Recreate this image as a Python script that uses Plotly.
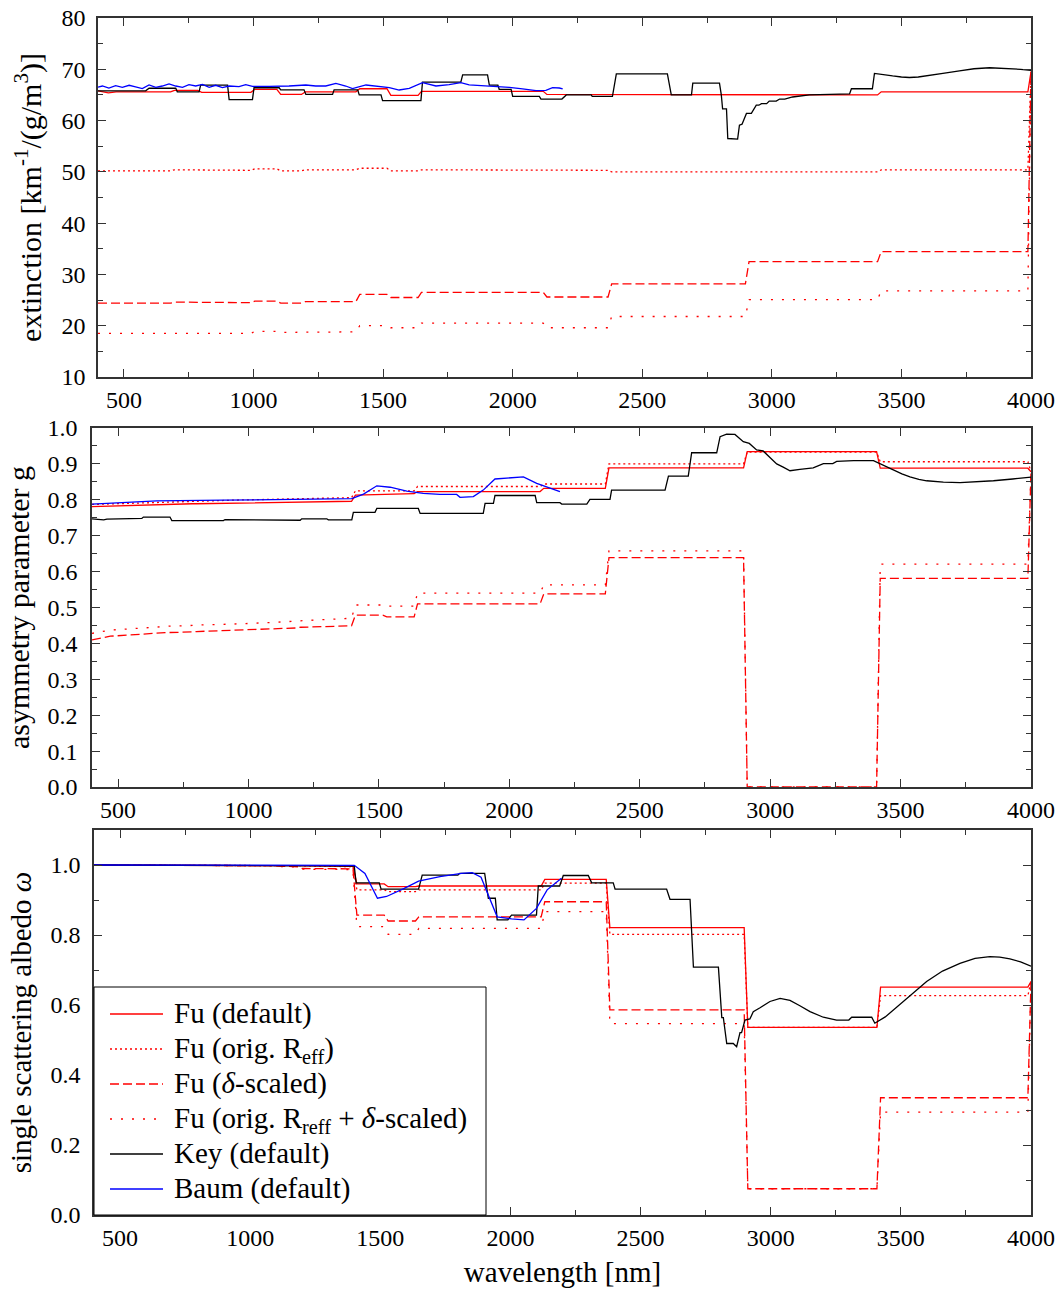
import plotly.graph_objects as go

# ---------------- data ----------------
# Fu parameterisation: common wavelength grid (nm)
fu_wl = [400, 440, 470, 680, 695, 785, 800, 990, 1005, 1090, 1105, 1185, 1200, 1395, 1410,
         1515, 1530, 1635, 1648, 2118, 2132, 2368, 2382, 2898, 2912, 3408, 3422, 3988, 4000]

# extinction [km-1/(g/m3)]
ext_fu = [65.8, 65.4, 65.6, 65.6, 65.9, 65.9, 65.5, 65.5, 66.1, 66.1, 65.1, 65.1, 65.6, 65.6, 66.2,
          66.2, 64.9, 64.9, 65.7, 65.7, 65.1, 65.1, 65.0, 65.0, 65.0, 65.0, 65.6, 65.6, 69.5]
ext_fu_reff = [50.2, 50.2, 50.2, 50.2, 50.4, 50.4, 50.3, 50.3, 50.6, 50.6, 50.2, 50.2, 50.4, 50.4, 50.7,
               50.7, 50.2, 50.2, 50.4, 50.4, 50.3, 50.3, 50.0, 50.0, 50.0, 50.0, 50.4, 50.4, 69.5]
ext_fu_delta = [24.4, 24.4, 24.4, 24.4, 24.6, 24.6, 24.5, 24.5, 24.8, 24.8, 24.4, 24.4, 24.7, 24.7, 26.1,
                26.1, 25.5, 25.5, 26.5, 26.5, 25.6, 25.6, 28.15, 28.15, 32.5, 32.5, 34.45, 34.45, 69.5]
ext_fu_reff_delta = [18.5, 18.5, 18.5, 18.5, 18.6, 18.6, 18.5, 18.5, 18.9, 18.9, 18.7, 18.7, 18.8, 18.8, 20.0,
                     20.0, 19.6, 19.6, 20.5, 20.5, 19.6, 19.6, 21.8, 21.8, 25.1, 25.1, 26.8, 26.8, 69.5]

# asymmetry parameter g
g_fu = [0.781, 0.782, 0.783, 0.787, 0.787, 0.789, 0.789, 0.791, 0.791, 0.792, 0.792, 0.793, 0.793, 0.796, 0.813,
        0.815, 0.816, 0.817, 0.823, 0.823, 0.832, 0.832, 0.889, 0.889, 0.934, 0.934, 0.888, 0.888, 0.878]
g_fu_reff = [0.787, 0.788, 0.789, 0.794, 0.794, 0.796, 0.796, 0.800, 0.800, 0.802, 0.802, 0.803, 0.803, 0.806, 0.825,
             0.825, 0.825, 0.825, 0.837, 0.837, 0.844, 0.844, 0.900, 0.900, 0.933, 0.933, 0.906, 0.906, 0.878]
g_fu_delta = [0.410, 0.415, 0.420, 0.430, 0.430, 0.432, 0.433, 0.437, 0.438, 0.440, 0.440, 0.443, 0.445, 0.449, 0.479,
              0.479, 0.474, 0.474, 0.510, 0.510, 0.538, 0.538, 0.639, 0.639, 0.0, 0.0, 0.581, 0.581, 0.878]
g_fu_reff_delta = [0.428, 0.433, 0.437, 0.447, 0.448, 0.450, 0.451, 0.455, 0.456, 0.458, 0.459, 0.462, 0.463, 0.470, 0.507,
                   0.507, 0.504, 0.504, 0.540, 0.540, 0.563, 0.563, 0.658, 0.658, 0.0, 0.0, 0.621, 0.621, 0.878]

# single scattering albedo
ssa_fu = [1.0, 1.0, 1.0, 1.0, 1.0, 1.0, 1.0, 1.0, 1.0, 0.999, 0.999, 0.998, 0.998, 0.996, 0.946,
          0.946, 0.938, 0.938, 0.940, 0.940, 0.959, 0.959, 0.821, 0.821, 0.536, 0.536, 0.651, 0.651, 0.667]
ssa_fu_reff = [1.0, 1.0, 1.0, 1.0, 1.0, 1.0, 1.0, 1.0, 1.0, 0.999, 0.999, 0.998, 0.998, 0.995, 0.929,
               0.929, 0.924, 0.924, 0.929, 0.929, 0.948, 0.948, 0.802, 0.802, 0.536, 0.536, 0.627, 0.627, 0.667]
ssa_fu_delta = [1.0, 1.0, 1.0, 1.0, 1.0, 1.0, 1.0, 0.999, 0.999, 0.998, 0.997, 0.995, 0.990, 0.989, 0.857,
                0.857, 0.840, 0.840, 0.852, 0.852, 0.895, 0.895, 0.586, 0.586, 0.075, 0.075, 0.335, 0.335, 0.667]
ssa_fu_reff_delta = [1.0, 1.0, 1.0, 1.0, 1.0, 1.0, 1.0, 0.999, 0.999, 0.998, 0.996, 0.994, 0.988, 0.987, 0.824,
                     0.824, 0.802, 0.802, 0.819, 0.819, 0.867, 0.867, 0.547, 0.547, 0.075, 0.075, 0.294, 0.294, 0.667]

# Key parameterisation
key_ext_wl = [400, 584, 597, 700, 706, 790, 796, 900, 906, 996, 1002, 1099, 1105, 1195, 1202, 1305, 1311, 1402,
              1408, 1492, 1498, 1646, 1652, 1800, 1807, 1903, 1910, 1943, 1948, 1994, 2000, 2103, 2109, 2190,
              2207, 2303, 2307, 2385, 2400, 2597, 2612, 2690, 2695, 2798, 2805, 2810, 2825, 2830, 2868, 2875,
              2885, 2902, 2921, 2930, 2940, 2950, 2960, 2980, 2990, 3017, 3030, 3050, 3080, 3145, 3210, 3300,
              3307, 3388, 3396, 3430, 3466, 3500, 3531, 3565, 3596, 3660, 3724, 3780, 3840, 3917, 3960, 4000]
key_ext = [65.8, 65.8, 66.3, 66.3, 65.6, 65.6, 66.9, 66.9, 64.1, 64.1, 66.4, 66.4, 66.0, 66.0, 65.1, 65.1, 66.0, 66.0,
           65.0, 65.0, 63.9, 63.9, 67.5, 67.5, 68.9, 68.9, 66.9, 66.9, 66.1, 66.1, 64.7, 64.7, 64.2, 64.2,
           65.0, 65.0, 64.7, 64.7, 69.1, 69.1, 65.0, 65.0, 67.3, 67.3, 65.0, 62.3, 62.3, 56.5, 56.4, 59.1,
           59.3, 61.4, 61.4, 62.2, 63.0, 63.0, 63.3, 63.3, 63.8, 63.8, 64.2, 64.2, 64.6, 65.0, 65.1, 65.2,
           66.2, 66.2, 69.2, 68.9, 68.7, 68.5, 68.4, 68.5, 68.7, 69.2, 69.7, 70.1, 70.3, 70.2, 70.0, 69.8]

key_g_wl = [400, 430, 445, 457, 591, 597, 699, 706, 904, 910, 993, 998, 1198, 1204, 1300, 1306, 1396, 1402, 1485,
            1492, 1651, 1658, 1900, 1907, 1939, 1945, 2099, 2105, 2194, 2201, 2297, 2309, 2386, 2392, 2597, 2610,
            2686, 2699, 2795, 2808, 2833, 2865, 2897, 2920, 2948, 2973, 2999, 3025, 3050, 3076, 3114, 3165, 3204,
            3240, 3255, 3320, 3396, 3430, 3472, 3505, 3536, 3570, 3600, 3664, 3728, 3800, 3856, 3930, 4000]
key_g = [0.747, 0.746, 0.744, 0.746, 0.748, 0.752, 0.752, 0.742, 0.742, 0.745, 0.745, 0.743, 0.743, 0.747, 0.747,
         0.744, 0.744, 0.765, 0.765, 0.776, 0.776, 0.762, 0.762, 0.790, 0.790, 0.812, 0.812, 0.792, 0.792, 0.788,
         0.788, 0.801, 0.801, 0.827, 0.827, 0.866, 0.866, 0.931, 0.931, 0.976, 0.983, 0.982, 0.962, 0.957, 0.939,
         0.936, 0.917, 0.900, 0.891, 0.881, 0.885, 0.889, 0.901, 0.901, 0.907, 0.909, 0.909, 0.897, 0.883, 0.872,
         0.864, 0.857, 0.853, 0.849, 0.848, 0.850, 0.853, 0.858, 0.863]

key_ssa_wl = [400, 1000, 1400, 1407, 1496, 1503, 1647, 1661, 1798, 1805, 1901, 1915, 1942, 1949, 1990, 2004, 2100,
              2107, 2189, 2203, 2299, 2312, 2395, 2402, 2600, 2613, 2690, 2703, 2799, 2812, 2818, 2831, 2856, 2869,
              2882, 2888, 2901, 2920, 2933, 2959, 2997, 3036, 3074, 3112, 3151, 3202, 3253, 3300, 3311, 3388, 3400,
              3440, 3471, 3535, 3599, 3660, 3727, 3785, 3842, 3880, 3919, 3960, 4000]
key_ssa = [1.0, 0.999, 0.997, 0.949, 0.949, 0.931, 0.931, 0.971, 0.971, 0.976, 0.976, 0.905, 0.905, 0.843, 0.843,
           0.857, 0.857, 0.940, 0.940, 0.970, 0.970, 0.949, 0.949, 0.931, 0.931, 0.902, 0.902, 0.708, 0.708, 0.564,
           0.564, 0.490, 0.490, 0.481, 0.521, 0.521, 0.557, 0.560, 0.581, 0.592, 0.610, 0.619, 0.613, 0.598, 0.581,
           0.565, 0.557, 0.557, 0.565, 0.565, 0.548, 0.566, 0.586, 0.627, 0.667, 0.697, 0.719, 0.733, 0.738, 0.737,
           0.732, 0.723, 0.711]

# Baum parameterisation
baum_ext_wl = [400, 417, 442, 468, 494, 520, 545, 571, 597, 623, 648, 674, 700, 726, 751, 777, 803, 829, 854, 880,
               906, 944, 970, 996, 1060, 1137, 1202, 1240, 1279, 1318, 1356, 1382, 1434, 1472, 1524, 1562, 1601,
               1652, 1704, 1755, 1800, 1832, 1897, 1935, 1987, 2038, 2090, 2128, 2154, 2180, 2193]
baum_ext = [66.5, 66.74, 66.35, 66.81, 66.49, 66.88, 66.55, 66.22, 66.94, 66.49, 66.74, 67.13, 66.74, 66.49, 67.0,
            66.74, 67.07, 66.49, 66.88, 66.42, 66.74, 66.61, 67.0, 66.68, 66.68, 66.74, 66.94, 66.74, 66.74, 67.26,
            66.74, 66.22, 66.94, 66.74, 66.42, 65.96, 66.29, 67.39, 66.74, 67.0, 67.39, 66.94, 66.74, 66.68, 66.49,
            66.16, 65.83, 65.90, 66.42, 66.35, 66.16]

baum_g_wl = [400, 648, 904, 1159, 1396, 1441, 1492, 1543, 1607, 1670, 1734, 1798, 1811, 1862, 1900, 1945, 2054,
             2105, 2156, 2194]
baum_g = [0.788, 0.797, 0.799, 0.801, 0.803, 0.816, 0.839, 0.835, 0.824, 0.818, 0.815, 0.815, 0.807, 0.809, 0.827,
          0.858, 0.864, 0.846, 0.832, 0.823]

baum_ssa_wl = [400, 1000, 1400, 1441, 1489, 1524, 1592, 1647, 1729, 1812, 1853, 1887, 1921, 1949, 2004, 2052, 2100,
               2141, 2196]
baum_ssa = [1.0, 1.0, 0.999, 0.976, 0.905, 0.910, 0.933, 0.954, 0.967, 0.976, 0.978, 0.965, 0.900, 0.852, 0.846,
            0.843, 0.876, 0.929, 0.962]

series_names = ["Fu (default)", "Fu (orig. R<sub>eff</sub>)", "Fu (<i>δ</i>-scaled)",
                "Fu (orig. R<sub>reff</sub> + <i>δ</i>-scaled)", "Key (default)", "Baum (default)"]

# ---------------- figure ----------------
W, H = 1062, 1291
FONT = "Liberation Serif"

styles = [
    dict(color="#ff0000", width=1.3, dash="solid"),
    dict(color="#ff0000", width=1.3, dash="2px,3px"),
    dict(color="#ff0000", width=1.3, dash="9px,4px"),
    dict(color="#ff0000", width=1.3, dash="2px,9px"),
    dict(color="#000000", width=1.3, dash="solid"),
    dict(color="#0000ff", width=1.3, dash="solid"),
]

panels = [
    ("x", "y", [ext_fu, ext_fu_reff, ext_fu_delta, ext_fu_reff_delta],
     (key_ext_wl, key_ext), (baum_ext_wl, baum_ext)),
    ("x2", "y2", [g_fu, g_fu_reff, g_fu_delta, g_fu_reff_delta],
     (key_g_wl, key_g), (baum_g_wl, baum_g)),
    ("x3", "y3", [ssa_fu, ssa_fu_reff, ssa_fu_delta, ssa_fu_reff_delta],
     (key_ssa_wl, key_ssa), (baum_ssa_wl, baum_ssa)),
]

fig = go.Figure()
for xa, ya, fus, key, baum in panels:
    for i, vals in enumerate(fus):
        fig.add_trace(go.Scatter(x=fu_wl, y=vals, mode="lines", name=series_names[i],
                                 line=styles[i], xaxis=xa, yaxis=ya, showlegend=False))
    fig.add_trace(go.Scatter(x=key[0], y=key[1], mode="lines", name=series_names[4],
                             line=styles[4], xaxis=xa, yaxis=ya, showlegend=False))
    fig.add_trace(go.Scatter(x=baum[0], y=baum[1], mode="lines", name=series_names[5],
                             line=styles[5], xaxis=xa, yaxis=ya, showlegend=False))

AX = "#333333"


def xax(left_px, anchor, title=None):
    d = dict(domain=[left_px / W, 1031 / W], anchor=anchor, range=[400, 4000],
             tick0=0, dtick=500, ticks="inside", ticklen=8, tickcolor=AX, tickwidth=1.2,
             showline=True, linecolor=AX, linewidth=1.5, mirror="allticks",
             showgrid=False, zeroline=False, automargin=False,
             tickfont=dict(family=FONT, size=24, color="black"),
             minor=dict(dtick=250, tick0=0, ticks="inside", ticklen=5, tickcolor=AX, tickwidth=1.2, showgrid=False))
    if title:
        d["title"] = dict(text=title, font=dict(family=FONT, size=29, color="black"), standoff=12)
    return d


def yax(top_px, bot_px, anchor, rng, dtick, mdt, title, fmt=None, standoff=10, tls=6, tsize=30):
    d = dict(domain=[1 - bot_px / H, 1 - top_px / H], anchor=anchor, range=rng,
             dtick=dtick, tick0=0, ticks="inside", ticklen=8, tickcolor=AX, tickwidth=1.2,
             showline=True, linecolor=AX, linewidth=1.5, mirror="allticks",
             showgrid=False, zeroline=False, automargin=False, ticklabelstandoff=tls,
             tickfont=dict(family=FONT, size=24, color="black"),
             minor=dict(dtick=mdt, tick0=0, ticks="inside", ticklen=5, tickcolor=AX, tickwidth=1.2, showgrid=False),
             title=dict(text=title, font=dict(family=FONT, size=tsize, color="black"), standoff=standoff))
    if fmt:
        d["tickformat"] = fmt
    return d


# ---- legend drawn in the lower panel (box, line samples, labels) ----
def px_x(v):
    return v / W


def px_y(v):
    return 1 - v / H


LEG_L, LEG_T, LEG_R, LEG_B = 94, 987, 486, 1215
ROW0, ROWSTEP = 1014, 35
shapes = [dict(type="rect", xref="paper", yref="paper", x0=px_x(LEG_L), x1=px_x(LEG_R),
               y0=px_y(LEG_B), y1=px_y(LEG_T), line=dict(color="black", width=1),
               fillcolor="white", layer="above")]
annotations = []
for i, name in enumerate(series_names):
    yc = ROW0 + ROWSTEP * i
    st = styles[i]
    shapes.append(dict(type="line", xref="paper", yref="paper", x0=px_x(110), x1=px_x(163),
                       y0=px_y(yc), y1=px_y(yc), layer="above",
                       line=dict(color=st["color"], width=1.3, dash=st["dash"])))
    annotations.append(dict(text=name, xref="paper", yref="paper", x=px_x(172), y=px_y(yc - 19),
                            xanchor="left", yanchor="top", showarrow=False, align="left",
                            font=dict(family=FONT, size=29, color="black")))

fig.update_layout(
    width=W, height=H, autosize=False,
    margin=dict(l=0, r=0, t=0, b=0),
    paper_bgcolor="white", plot_bgcolor="white",
    font=dict(family=FONT, color="black"),
    xaxis=xax(98, "y"),
    yaxis=yax(18, 377, "x", [10, 80], 10, 5, "extinction [km<sup>-1</sup>/(g/m<sup>3</sup>)]",
              standoff=11, tls=6, tsize=30),
    xaxis2=xax(92, "y2"),
    yaxis2=yax(428, 787, "x2", [0, 1], 0.1, 0.05, "asymmetry parameter g", ".1f", standoff=9, tls=8,
               tsize=30),
    xaxis3=xax(94, "y3", "wavelength [nm]"),
    yaxis3=yax(830, 1215, "x3", [0, 1.1], 0.2, 0.1, "single scattering albedo <i>ω</i>", ".1f",
               standoff=10, tls=7, tsize=29),
    shapes=shapes,
    annotations=annotations,
    showlegend=False,
)

fig.write_html("out.html")
